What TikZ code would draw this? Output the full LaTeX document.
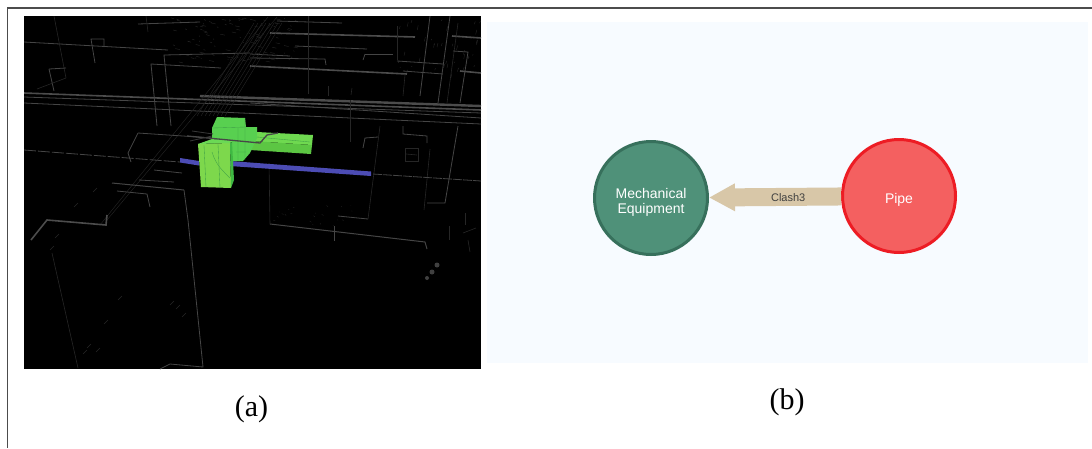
\documentclass[tikz,border=0pt]{standalone}
\usepackage{fontspec}
\setmainfont{Liberation Sans}
\newfontfamily\capfont{Liberation Serif}
\usetikzlibrary{arrows.meta}

\definecolor{panelblue}{HTML}{F7FBFF}
\definecolor{mechfill}{HTML}{4F9179}
\definecolor{mechline}{HTML}{37705C}
\definecolor{pipefill}{HTML}{F46060}
\definecolor{pipeline}{HTML}{ED1C24}
\definecolor{clashtan}{HTML}{D8C7A8}
\definecolor{pipeblue}{HTML}{4C4CB4}
\definecolor{armtop}{HTML}{6FD950}
\definecolor{armfront}{HTML}{5CC643}
\definecolor{blockupper}{HTML}{58D050}
\definecolor{talltop}{HTML}{6BD955}
\definecolor{tallfront}{HTML}{7DD84C}
\definecolor{tallside}{HTML}{3FB843}
\definecolor{blockdark}{HTML}{3FA047}

\tikzset{
  wire/.style={draw=white!27!black,line width=0.8pt},
  faint/.style={draw=white!15!black,line width=0.6pt},
  thickwire/.style={draw=white!30!black,line width=1.6pt},
  blockline/.style={draw=blockdark,line width=0.35pt},
  graphnode/.style={circle,line width=3pt,minimum size=113pt,inner sep=0pt,align=center,
    text=white,font=\fontsize{14}{15}\selectfont},
  caption/.style={font=\capfont\fontsize{30}{31}\selectfont}
}

\begin{document}
\begin{tikzpicture}[x=1pt,y=-1pt]
    \useasboundingbox (0,0) rectangle (1092,448);

    % --- outer frame ---
    \draw[line width=1.2pt,white!30!black] (1092,8) -- (7.5,8) -- (7.5,448);

    % --- (a) model view ---
    \fill[black] (24,16) rectangle (481,369);
    \begin{scope}
      \clip (24,16) rectangle (481,369);

      % specks in the dense part of the model
      \pgfmathsetseed{17}
      \foreach \i in {1,...,110} {
        \pgfmathsetmacro{\px}{170+125*rnd}
        \pgfmathsetmacro{\py}{17+45*rnd}
        \draw[faint,line width=0.4pt] (\px,\py) -- ++(5*rnd,1);
      }
      \foreach \i in {1,...,45} {
        \pgfmathsetmacro{\px}{395+85*rnd}
        \pgfmathsetmacro{\py}{18+60*rnd}
        \draw[faint,line width=0.4pt] (\px,\py) -- ++(1,-5*rnd);
      }
      \foreach \i in {1,...,22} {
        \pgfmathsetmacro{\px}{270+85*rnd}
        \pgfmathsetmacro{\py}{205+22*rnd}
        \draw[faint,line width=0.3pt] (\px,\py) -- ++(2*rnd,2*rnd);
      }

      % long horizontal runs
      \draw[thickwire] (24,93) -- (481,110);
      \draw[wire] (24,97) -- (481,113);
      \draw[wire] (24,103) -- (481,124);
      \draw[thickwire,line width=2.4pt] (200,96) -- (481,106);
      \draw[wire] (250,103) -- (481,118);
      \draw[wire] (24,42) -- (168,50);
      \draw[thickwire] (270,33) -- (415,37);
      \draw[wire] (277,21) -- (342,23);
      \draw[wire] (295,46) -- (367,49);
      \draw[wire] (250,54) -- (290,56);
      \draw[wire] (250,58) -- (325,59) -- (326,65);
      \draw[thickwire] (250,66) -- (407,74);
      \draw[thickwire] (452,36) -- (481,38);
      \draw[thickwire] (460,71) -- (481,73);

      % verticals, upper left
      \draw[faint] (54,16) -- (66,78);
      \draw[wire] (49,69) -- (66,68);
      \draw[wire] (49,69) -- (54,91);
      \draw[faint] (37,89) -- (66,78);
      \draw[wire] (95,63) -- (91,39) -- (104,39) -- (104,47);
      \draw[wire] (157,126) -- (151,64) -- (221,68);
      \draw[wire] (171,126) -- (164,55) -- (250,53);
      \draw[wire] (138,24) -- (200,22);
      \draw[faint] (146,16) -- (148,32);

      % diagonal bundle
      \foreach \d in {0,4,...,28}
        \draw[faint,line width=0.4pt] (197+\d,116) -- (254+\d,23);
      \draw[faint,line width=0.4pt] (277,17) -- (107,220);
      \draw[faint,line width=0.4pt] (268,17) -- (100,225);

      % verticals, upper right
      \draw[faint] (308,16) -- (308,94);
      \draw[faint] (397,26) -- (397,60);
      \draw[faint] (405,75) -- (403,96);
      \draw[wire] (430,16) -- (420,96);
      \draw[wire] (450,16) -- (438,103);
      \draw[faint] (458,23) -- (447,103);
      \draw[wire] (453,51) -- (468,52) -- (460,103);
      \draw[wire] (397,61) -- (443,64);
      \draw[wire] (403,71) -- (443,74);
      \draw[wire] (365,54) -- (393,54);
      \draw[wire] (365,54) -- (363,60);
      \draw[faint] (352,88) -- (351,95);
      \draw[faint] (328,86) -- (328,96);
      \draw[faint] (350,100) -- (350,142);

      % right of the clash
      \draw[wire] (363,148) -- (365,138) -- (378,137);
      \draw[faint] (380,126) -- (368,219);
      \draw[wire] (403,126) -- (403,134) -- (427,136) -- (427,143);
      \draw[faint] (405,148) rectangle (418,161);
      \draw[faint] (406,154) -- (417,155);
      \draw[wire] (458,126) -- (445,203) -- (427,203);
      \draw[faint] (430,149) -- (424,210);
      \draw[wire,dash pattern=on 9pt off 1pt] (373,174) -- (481,181);
      \draw[wire,dash pattern=on 12pt off 2pt] (24,150) -- (180,162);

      % lower pipes, right
      \draw[faint] (269,163) -- (270,224);
      \draw[wire,line width=1pt] (270,224) -- (425,242) -- (427,249);
      \draw[wire] (338,216) -- (368,219);
      \draw[wire] (334,226) -- (334,241);
      \draw[faint] (465,213) -- (465,225);
      \draw[faint] (449,226) -- (449,240);
      \draw[faint] (468,240) -- (470,252);
      \draw[faint] (463,233) -- (476,228);
      \fill[white!25!black] (437,265) circle (2.5) (432,272) circle (2.5) (427,278) circle (2);

      % lower pipes, left
      \draw[thickwire] (107,215) -- (106,225) -- (47,220) -- (31,240);
      \draw[wire,line width=1pt] (112,183) -- (184,190);
      \draw[wire] (184,190) -- (188,220) -- (203,367) -- (170,364) -- (160,369);
      \draw[wire] (139,180) -- (174,182);
      \draw[wire] (117,191) -- (147,194) -- (150,207);
      \draw[wire] (154,170) -- (182,173);
      \draw[wire] (138,133) -- (128,153) -- (131,162);
      \draw[wire] (138,133) -- (213,138);
      \draw[faint] (52,253) -- (78,368);
      \foreach \sx/\sy in {120/298,106/322,89/346,98/350,85/352,178/307,184/315,172/303,76/205,95/190,57/236,52/248}
        \draw[faint] (\sx-2,\sy+2) -- (\sx+2,\sy-2);

      % --- clashing element ---
      \fill[pipeblue] (180,158) -- (199,161) -- (199,165.5) -- (180,162.5) -- cycle;
      \fill[pipeblue] (230,161) -- (371,171.5) -- (371,176) -- (230,166) -- cycle;

      % right arm
      \fill[armtop] (257,132) -- (313,135) -- (312,145) -- (252,141) -- cycle;
      \fill[armfront] (252,141) -- (312,145) -- (311,154) -- (250,150) -- cycle;
      % upper block
      \fill[blockupper] (217,117) -- (245,118) -- (246,127) -- (257,127) -- (257,138)
        -- (250,153) -- (243,161) -- (232,161) -- (232,142) -- (212,139) -- (212,128) -- cycle;
      \draw[blockline] (212,128) -- (246,127) (245,118) -- (245,160) (238,128) -- (238,160);
      \draw[blockline] (257,137) -- (310,142) (246,152) -- (236,152);
      % tall block
      \fill[tallfront] (198,144) -- (230,143) -- (231,188) -- (201,187) -- cycle;
      \fill[tallside] (230,143) -- (232,142) -- (234,180) -- (231,188) -- cycle;
      \fill[talltop] (198,144) -- (212,139) -- (232,141) -- (230,143) -- cycle;
      \draw[blockline] (204,145) -- (206,187) (218,144) -- (220,188);
      \draw[blockline] (212,152) .. controls (216,165) and (222,170) .. (230,178);

      % small pipes over the blocks
      \draw[white!28!black,line width=1.3pt] (187,136) -- (260,143) -- (267,135) -- (278,133);
      \draw[white!22!black,line width=0.8pt] (192,131) -- (213,134) (190,141) -- (212,136);
    \end{scope}
    \node[caption] (capa) at (251.5,409) {(a)};

    % --- (b) clash graph ---
    \fill[panelblue] (487,22) rectangle (1088,362.5);
    \node[graphnode,fill=mechfill,draw=mechline,text height=30pt,text depth=0pt] (mech) at (651,198) {Mechanical\\Equipment};
    \node[graphnode,fill=pipefill,draw=pipeline,text height=15pt,text depth=0pt] (pipe) at (899,196) {Pipe};
    \draw[clashtan,line width=18pt,-{Triangle[length=26pt,width=26pt]}] (pipe) -- (mech)
      node[pos=0.4,yshift=-1pt,text=black!75,font=\fontsize{11}{12}\selectfont] (clash) {Clash3};
    \node[caption] (capb) at (787,402) {(b)};

\end{tikzpicture}
\end{document}
